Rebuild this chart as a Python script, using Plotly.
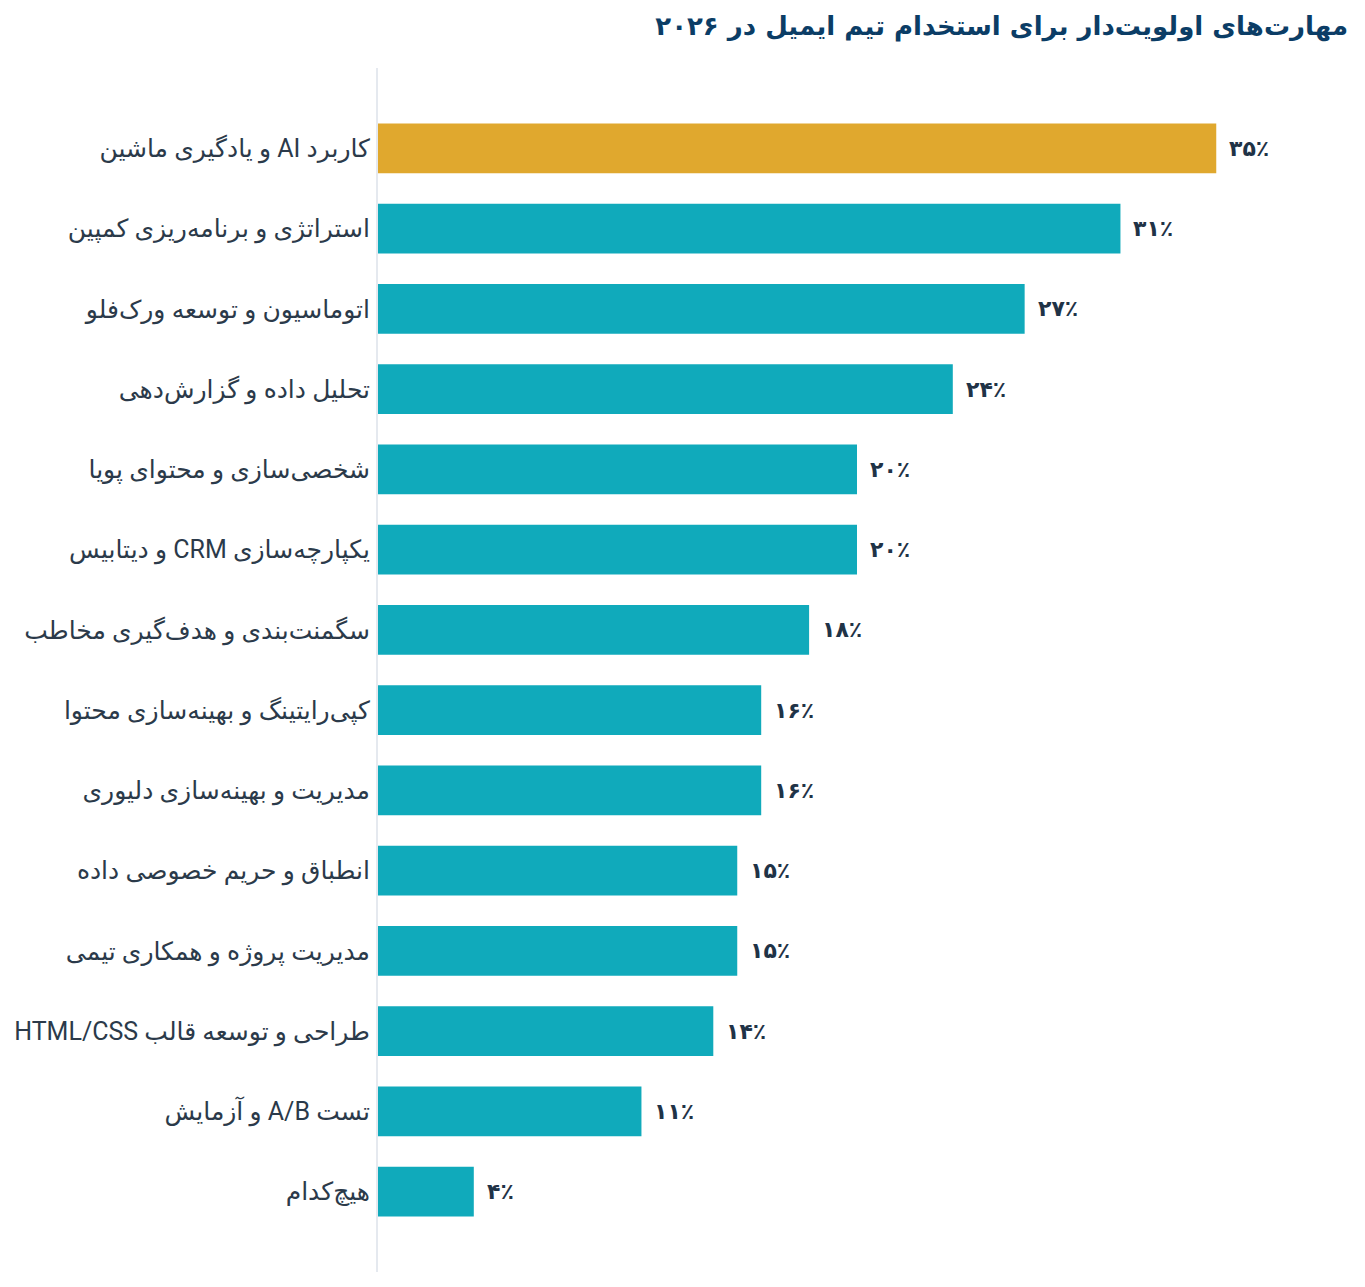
import plotly.graph_objects as go

# داده‌ها
skills = [
    "کاربرد AI و یادگیری ماشین",
    "استراتژی و برنامه‌ریزی کمپین",
    "اتوماسیون و توسعه ورک‌فلو",
    "تحلیل داده و گزارش‌دهی",
    "شخصی‌سازی و محتوای پویا",
    "یکپارچه‌سازی CRM و دیتابیس",
    "سگمنت‌بندی و هدف‌گیری مخاطب",
    "کپی‌رایتینگ و بهینه‌سازی محتوا",
    "مدیریت و بهینه‌سازی دلیوری",
    "انطباق و حریم خصوصی داده",
    "مدیریت پروژه و همکاری تیمی",
    "طراحی و توسعه قالب HTML/CSS",
    "تست A/B و آزمایش",
    "هیچ‌کدام",
]
percent = [35, 31, 27, 24, 20, 20, 18, 16, 16, 15, 15, 14, 11, 4]

fa_digits = str.maketrans("0123456789", "۰۱۲۳۴۵۶۷۸۹")
labels = [str(v).translate(fa_digits) + "٪" for v in percent]

# RTL embedding so mixed Latin/Persian labels keep their order
rtl = ["\u202b" + s + "\u202c" for s in skills]

gold = "#E0A82E"
teal = "#10AABB"
colors = [gold if i == 0 else teal for i in range(len(skills))]

fnt = "Roboto, DejaVu Sans, sans-serif"

fig = go.Figure()
fig.add_trace(go.Bar(
    x=percent, y=rtl, orientation="h",
    marker=dict(color=colors, line=dict(width=0)),
    hoverinfo="skip", showlegend=False,
))

for s, v, t in zip(rtl, percent, labels):
    fig.add_annotation(x=v, y=s, text="<b>" + t + "</b>", showarrow=False,
                       xanchor="left", yanchor="middle", xshift=11,
                       font=dict(family="DejaVu Sans, sans-serif", size=22, color="#1f3347"))

fig.update_layout(
    width=1365, height=1287,
    margin=dict(l=370, r=37, t=60, b=23),
    paper_bgcolor="white", plot_bgcolor="white",
    bargap=0.38,
    title=dict(text="<b>\u202bمهارت‌های اولویت‌دار برای استخدام تیم ایمیل در ۲۰۲۶\u202c</b>",
               x=1340 / 1365, xanchor="right", xref="container",
               y=1 - 18 / 1287, yanchor="middle", yref="container",
               font=dict(family="DejaVu Sans, sans-serif", size=26, color="#0b3d66")),
    font=dict(family=fnt, size=25, color="#2b3a4a"),
)
fig.update_xaxes(range=[0, 40], visible=False, showgrid=False, zeroline=False, fixedrange=True)
fig.update_yaxes(range=[len(skills), -1], showgrid=False, zeroline=False,
                 showline=True, linecolor="#e5e9ef", linewidth=2,
                 ticks="", ticklabelstandoff=1, automargin=False,
                 tickfont=dict(family=fnt, size=25, color="#2b3a4a"))

fig.write_html("out.html")
